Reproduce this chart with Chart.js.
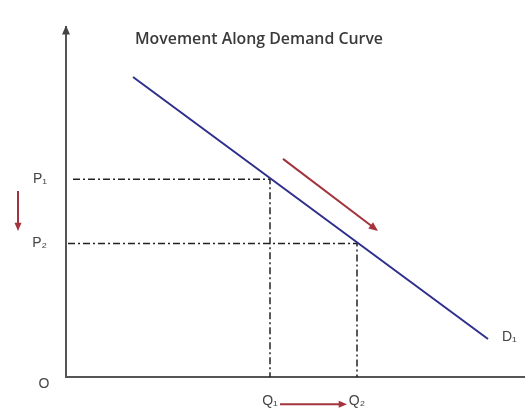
<!DOCTYPE html>
<html>
<head>
<meta charset="utf-8">
<script src="https://cdn.jsdelivr.net/npm/chart.js@4"></script>
<style>html,body{margin:0;padding:0;background:#fff}</style>
</head>
<body>
<canvas id="myChart" width="525" height="409"></canvas>
<script>
// demand curve end points (quantity, price)
const demandQ = [67, 422];
const demandP = [308, 39];

// price / quantity levels
const priceLabels = ['P\u2081', 'P\u2082'];
const priceValues = [203, 137];
const quantityLabels = ['Q\u2081', 'Q\u2082'];
const quantityValues = [204, 291];
const guideStart = [7, 2];

// arrows: [from, to] in data units
const moveArrow = [[217, 224], [312, 150]];
const priceArrow = [[-48, 191], [-48, 150]];
const quantityArrow = [[214, -28], [281, -28]];

const titleText = 'Movement Along Demand Curve';
const curveLabel = 'D\u2081';

const guides = priceValues.map((p, i) => ({
    data: [
        {x: guideStart[i], y: p},
        {x: quantityValues[i], y: p},
        {x: quantityValues[i], y: 0}
    ],
    borderColor: '#222',
    borderWidth: 1.5,
    borderDash: [7, 3, 2, 3],
    showLine: true,
    pointRadius: 0
}));

function arrow(ctx, x1, y1, x2, y2, color, head) {
    const a = Math.atan2(y2 - y1, x2 - x1);
    ctx.save();
    ctx.strokeStyle = color;
    ctx.fillStyle = color;
    ctx.lineWidth = 2;
    ctx.beginPath();
    ctx.moveTo(x1, y1);
    ctx.lineTo(x2 - Math.cos(a) * head * 0.6, y2 - Math.sin(a) * head * 0.6);
    ctx.stroke();
    ctx.beginPath();
    ctx.moveTo(x2, y2);
    ctx.lineTo(x2 - head * Math.cos(a - 0.4), y2 - head * Math.sin(a - 0.4));
    ctx.lineTo(x2 - head * Math.cos(a + 0.4), y2 - head * Math.sin(a + 0.4));
    ctx.closePath();
    ctx.fill();
    ctx.restore();
}

const extras = {
    id: 'extras',
    afterDraw(chart) {
        const {ctx, scales: {x, y}, chartArea} = chart;
        const px = v => x.getPixelForValue(v);
        const py = v => y.getPixelForValue(v);

        // arrowhead on the price axis
        ctx.save();
        ctx.fillStyle = '#444';
        ctx.beginPath();
        ctx.moveTo(chartArea.left, chartArea.top - 2);
        ctx.lineTo(chartArea.left - 4, chartArea.top + 7);
        ctx.lineTo(chartArea.left + 4, chartArea.top + 7);
        ctx.closePath();
        ctx.fill();

        // title, fitted to the reference width
        ctx.fillStyle = '#3a3a3a';
        ctx.font = '600 16px "Open Sans"';
        ctx.textBaseline = 'alphabetic';
        ctx.textAlign = 'left';
        const w = ctx.measureText(titleText).width;
        ctx.save();
        ctx.translate(135, 44);
        ctx.scale(248 / w, 1);
        ctx.fillText(titleText, 0, 0);
        ctx.restore();

        ctx.font = '14px "Liberation Sans"';
        ctx.fillStyle = '#444';
        ctx.fillText(curveLabel, px(demandQ[1]) + 14, py(demandP[1]) + 2);

        ctx.font = '14px "Liberation Sans"';
        ctx.textAlign = 'center';
        ctx.fillText('O', 44, 388);
        ctx.restore();

        arrow(ctx, px(moveArrow[0][0]), py(moveArrow[0][1]), px(moveArrow[1][0]), py(moveArrow[1][1]), '#a3333d', 10);
        arrow(ctx, px(priceArrow[0][0]), py(priceArrow[0][1]), px(priceArrow[1][0]), py(priceArrow[1][1]), '#a3333d', 9);
        arrow(ctx, px(quantityArrow[0][0]), py(quantityArrow[0][1]), px(quantityArrow[1][0]), py(quantityArrow[1][1]), '#a3333d', 9);
    }
};

new Chart(document.getElementById('myChart'), {
    type: 'scatter',
    data: {
        datasets: [{
            data: demandQ.map((q, i) => ({x: q, y: demandP[i]})),
            borderColor: '#2e2e8c',
            borderWidth: 2,
            showLine: true,
            pointRadius: 0
        }, ...guides]
    },
    options: {
        responsive: false,
        animation: false,
        layout: {padding: {top: 18, right: 0, left: 0, bottom: 0}},
        plugins: {legend: {display: false}, tooltip: {enabled: false}},
        scales: {
            x: {
                type: 'linear',
                min: 0,
                max: 459,
                grid: {display: false, drawTicks: false},
                border: {color: '#555', width: 2},
                afterBuildTicks: s => { s.ticks = quantityValues.map(v => ({value: v})); },
                afterFit: s => { s.height = 32; },
                ticks: {
                    padding: 16,
                    color: '#444',
                    font: {family: 'Liberation Sans', size: 14},
                    callback: v => quantityLabels[quantityValues.indexOf(v)]
                }
            },
            y: {
                min: 0,
                max: 359,
                grid: {display: false, drawTicks: false},
                border: {color: '#555', width: 2},
                afterBuildTicks: s => { s.ticks = priceValues.map(v => ({value: v})); },
                afterFit: s => { s.width = 66; },
                ticks: {
                    padding: 19,
                    color: '#444',
                    font: {family: 'Liberation Sans', size: 14},
                    callback: v => priceLabels[priceValues.indexOf(v)]
                }
            }
        }
    },
    plugins: [extras]
});
</script>
</body>
</html>
